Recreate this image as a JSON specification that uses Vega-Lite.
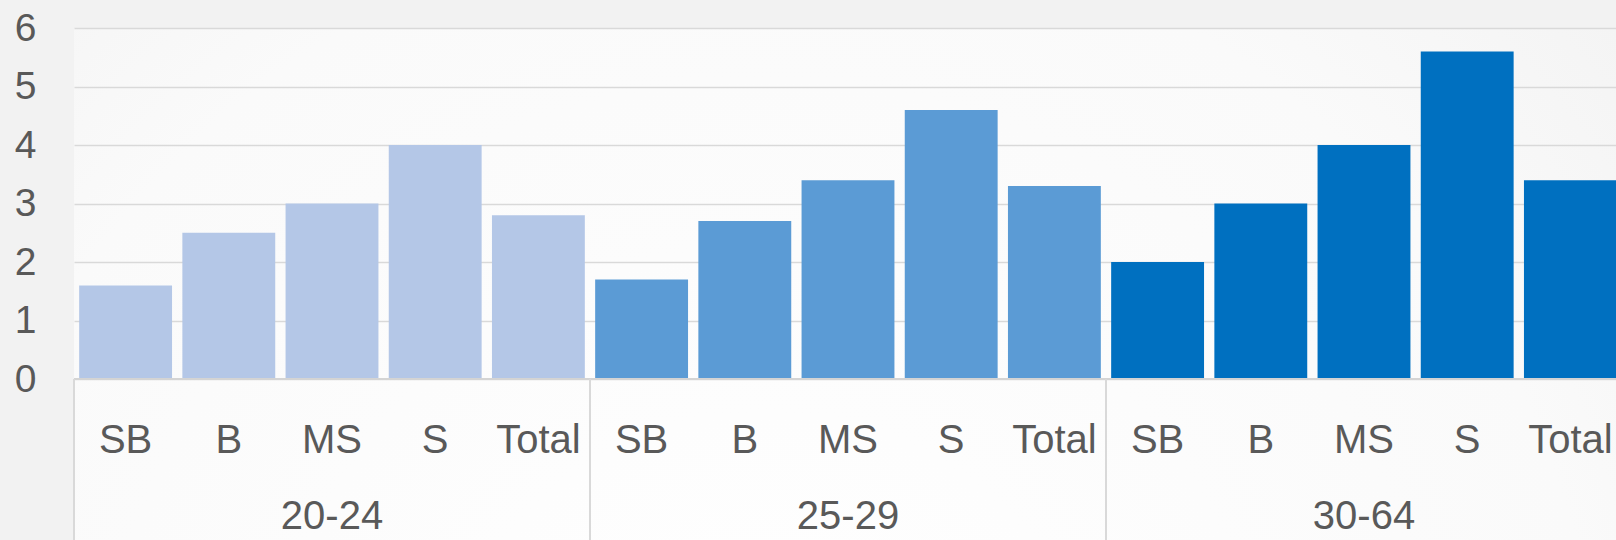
{
  "$schema": "https://vega.github.io/schema/vega-lite/v6.json",
  "width": 1542,
  "height": 512,
  "autosize": {"type": "none"},
  "padding": {"left": 74, "top": 28, "right": 0, "bottom": 0},
  "background": "#f2f2f2",
  "config": {
    "font": "Liberation Sans",
    "view": {
      "stroke": null,
      "fill": {
        "gradient": "radial",
        "x1": 0.45, "y1": 0.8, "r1": 0,
        "x2": 0.45, "y2": 0.8, "r2": 0.9,
        "stops": [
          {"offset": 0, "color": "#ffffff"},
          {"offset": 0.6, "color": "#fafafa"},
          {"offset": 1, "color": "#eeeeee"}
        ]
      }
    }
  },
  "data": {
    "values": [
      {"group": "20-24", "cat": "SB", "value": 1.6},
      {"group": "20-24", "cat": "B", "value": 2.5},
      {"group": "20-24", "cat": "MS", "value": 3.0},
      {"group": "20-24", "cat": "S", "value": 4.0},
      {"group": "20-24", "cat": "Total", "value": 2.8},
      {"group": "25-29", "cat": "SB", "value": 1.7},
      {"group": "25-29", "cat": "B", "value": 2.7},
      {"group": "25-29", "cat": "MS", "value": 3.4},
      {"group": "25-29", "cat": "S", "value": 4.6},
      {"group": "25-29", "cat": "Total", "value": 3.3},
      {"group": "30-64", "cat": "SB", "value": 2.0},
      {"group": "30-64", "cat": "B", "value": 3.0},
      {"group": "30-64", "cat": "MS", "value": 4.0},
      {"group": "30-64", "cat": "S", "value": 5.6},
      {"group": "30-64", "cat": "Total", "value": 3.4}
    ]
  },
  "layer": [
    {
      "mark": {"type": "bar"},
      "encoding": {
        "x": {
          "field": "group", "type": "nominal",
          "scale": {"domain": ["20-24", "25-29", "30-64"], "range": [0, 1548], "paddingInner": 0, "paddingOuter": 0},
          "axis": null
        },
        "xOffset": {
          "field": "cat", "type": "nominal",
          "scale": {"domain": ["SB", "B", "MS", "S", "Total"], "paddingInner": 0.1, "paddingOuter": 0.05}
        },
        "y": {
          "field": "value", "type": "quantitative",
          "scale": {"domain": [-2.75, 6], "nice": false},
          "axis": {
            "values": [0, 1, 2, 3, 4, 5, 6],
            "format": "d",
            "grid": true,
            "gridColor": "#d9d9d9",
            "gridWidth": 1.5,
            "domain": false,
            "ticks": false,
            "labelFontSize": 39,
            "labelColor": "#595959",
            "labelPadding": 38,
            "labelFont": "Liberation Sans",
            "title": null
          }
        },
        "color": {
          "field": "group", "type": "nominal",
          "scale": {"domain": ["20-24", "25-29", "30-64"], "range": ["#b4c7e7", "#5b9bd5", "#0070c0"]},
          "legend": null
        }
      }
    },
    {
      "mark": {"type": "rule", "color": "#d4d4d4", "strokeWidth": 2},
      "encoding": {"y": {"datum": 0}}
    },
    {
      "mark": {"type": "text", "fontSize": 40, "color": "#595959", "baseline": "middle", "font": "Liberation Sans"},
      "encoding": {
        "x": {"field": "group", "type": "nominal"},
        "xOffset": {"field": "cat", "type": "nominal"},
        "y": {"datum": -1.06},
        "text": {"field": "cat"}
      }
    },
    {
      "data": {"values": [{"group": "20-24"}, {"group": "25-29"}, {"group": "30-64"}]},
      "layer": [
        {
          "mark": {"type": "rule", "color": "#d9d9d9", "strokeWidth": 2},
          "encoding": {
            "x": {"field": "group", "type": "nominal", "bandPosition": 0},
            "y": {"datum": 0},
            "y2": {"datum": -2.75}
          }
        },
        {
          "mark": {"type": "text", "fontSize": 40, "color": "#595959", "baseline": "middle", "font": "Liberation Sans"},
          "encoding": {
            "x": {"field": "group", "type": "nominal"},
            "y": {"datum": -2.35},
            "text": {"field": "group"}
          }
        }
      ]
    }
  ]
}
